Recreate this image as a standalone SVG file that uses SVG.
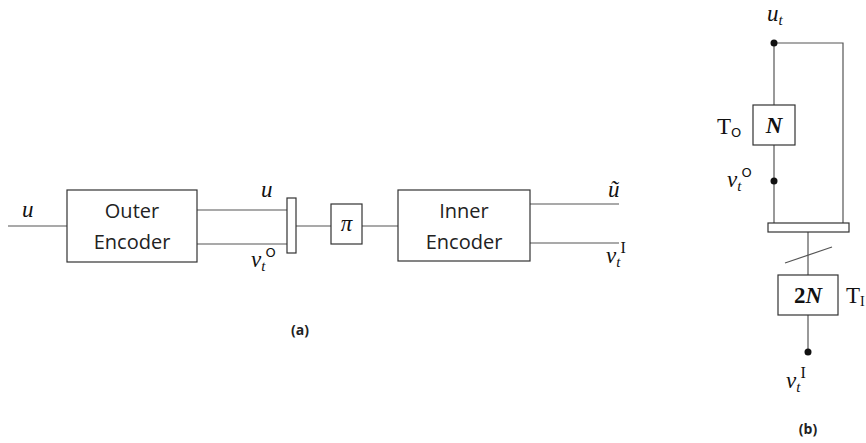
<svg xmlns="http://www.w3.org/2000/svg" width="866" height="443" viewBox="0 0 866 443">
<style>
.box{fill:#fff;stroke:#333;stroke-width:1.2}
.ln{fill:none;stroke:#555;stroke-width:1.2}
.lb{font-family:"Open Sans","Liberation Sans",sans-serif;font-size:20px;fill:#222;text-anchor:middle}
.m{font-family:"Liberation Serif","DejaVu Serif",serif;font-style:italic;font-size:23px;fill:#111}
.r{font-family:"Liberation Serif","DejaVu Serif",serif;fill:#111}
.s{font-family:"DejaVu Sans","Liberation Sans",sans-serif;font-style:normal;font-size:13px;fill:#111}
.cap{font-family:"Open Sans","Liberation Sans",sans-serif;font-weight:bold;font-size:14px;fill:#222;text-anchor:middle}
.dot{fill:#111}
</style>
<g id="connectors">
<line class="ln" x1="8" y1="226" x2="67" y2="226"/>
<line class="ln" x1="197" y1="210" x2="287" y2="210"/>
<line class="ln" x1="197" y1="244" x2="287" y2="244"/>
<line class="ln" x1="296" y1="226" x2="331" y2="226"/>
<line class="ln" x1="362" y1="226" x2="398" y2="226"/>
<line class="ln" x1="530" y1="204" x2="619" y2="204"/>
<line class="ln" x1="530" y1="243" x2="619" y2="243"/>
<polyline class="ln" points="774,43 843,43 843,223"/>
<line class="ln" x1="774" y1="43" x2="774" y2="105"/>
<line class="ln" x1="774" y1="145" x2="774" y2="223"/>
<line class="ln" x1="808" y1="232" x2="808" y2="275"/>
<line class="ln" x1="785" y1="263" x2="832" y2="247"/>
<line class="ln" x1="808" y1="315" x2="808" y2="352"/>
</g>
<g id="outer-encoder">
<rect class="box" x="67" y="190" width="130" height="72"/>
<text class="lb" x="132" y="218">Outer</text>
<text class="lb" x="132" y="249">Encoder</text>
</g>
<g id="demux-a">
<rect class="box" x="287" y="198" width="9" height="55"/>
</g>
<g id="pi">
<rect class="box" x="331" y="204" width="31" height="40"/>
<text class="m" x="346.5" y="231" text-anchor="middle">π</text>
</g>
<g id="inner-encoder">
<rect class="box" x="398" y="190" width="132" height="71"/>
<text class="lb" x="464" y="218">Inner</text>
<text class="lb" x="464" y="249">Encoder</text>
</g>
<g id="labels-a">
<text class="m" x="22" y="217">u</text>
<text class="m" x="261" y="197">u</text>
<text class="m" x="251" y="267">v<tspan font-size="15" dy="4">t</tspan><tspan class="s" dy="-14">O</tspan></text>
<text class="m" x="608" y="197">ũ</text>
<text class="m" x="606" y="263">v<tspan font-size="15" dy="4">t</tspan><tspan class="r" style="font-style:normal" font-size="16" dy="-14">I</tspan></text>
<text class="cap" x="300" y="335">(a)</text>
</g>
<g id="node-ut">
<circle class="dot" cx="774" cy="43" r="3.5"/>
<text class="m" x="767" y="21">u<tspan font-size="15" dy="4">t</tspan></text>
</g>
<g id="node-TO">
<rect class="box" x="753" y="105" width="42" height="40"/>
<text class="r" x="774" y="133" style="font-size:23px;font-weight:bold;font-style:italic" text-anchor="middle">N</text>
<text class="r" x="717" y="134" style="font-size:23px">T<tspan class="s" dy="3">O</tspan></text>
</g>
<g id="node-vtO">
<circle class="dot" cx="774" cy="181" r="3.5"/>
<text class="m" x="727" y="187">v<tspan font-size="15" dy="4">t</tspan><tspan class="s" dy="-14">O</tspan></text>
</g>
<g id="bar-b">
<rect class="box" x="768" y="223" width="81" height="9"/>
</g>
<g id="node-2N">
<rect class="box" x="778" y="275" width="60" height="40"/>
<text class="r" x="808" y="303" style="font-size:23px;font-weight:bold" text-anchor="middle">2<tspan style="font-style:italic">N</tspan></text>
<text class="r" x="846" y="303" style="font-size:23px">T<tspan dy="3" style="font-size:14px">I</tspan></text>
</g>
<g id="node-vtI">
<circle class="dot" cx="808" cy="352" r="3.5"/>
<text class="m" x="786" y="388">v<tspan font-size="15" dy="4">t</tspan><tspan class="r" style="font-style:normal" font-size="16" dy="-14">I</tspan></text>
<text class="cap" x="808" y="434">(b)</text>
</g>
</svg>
